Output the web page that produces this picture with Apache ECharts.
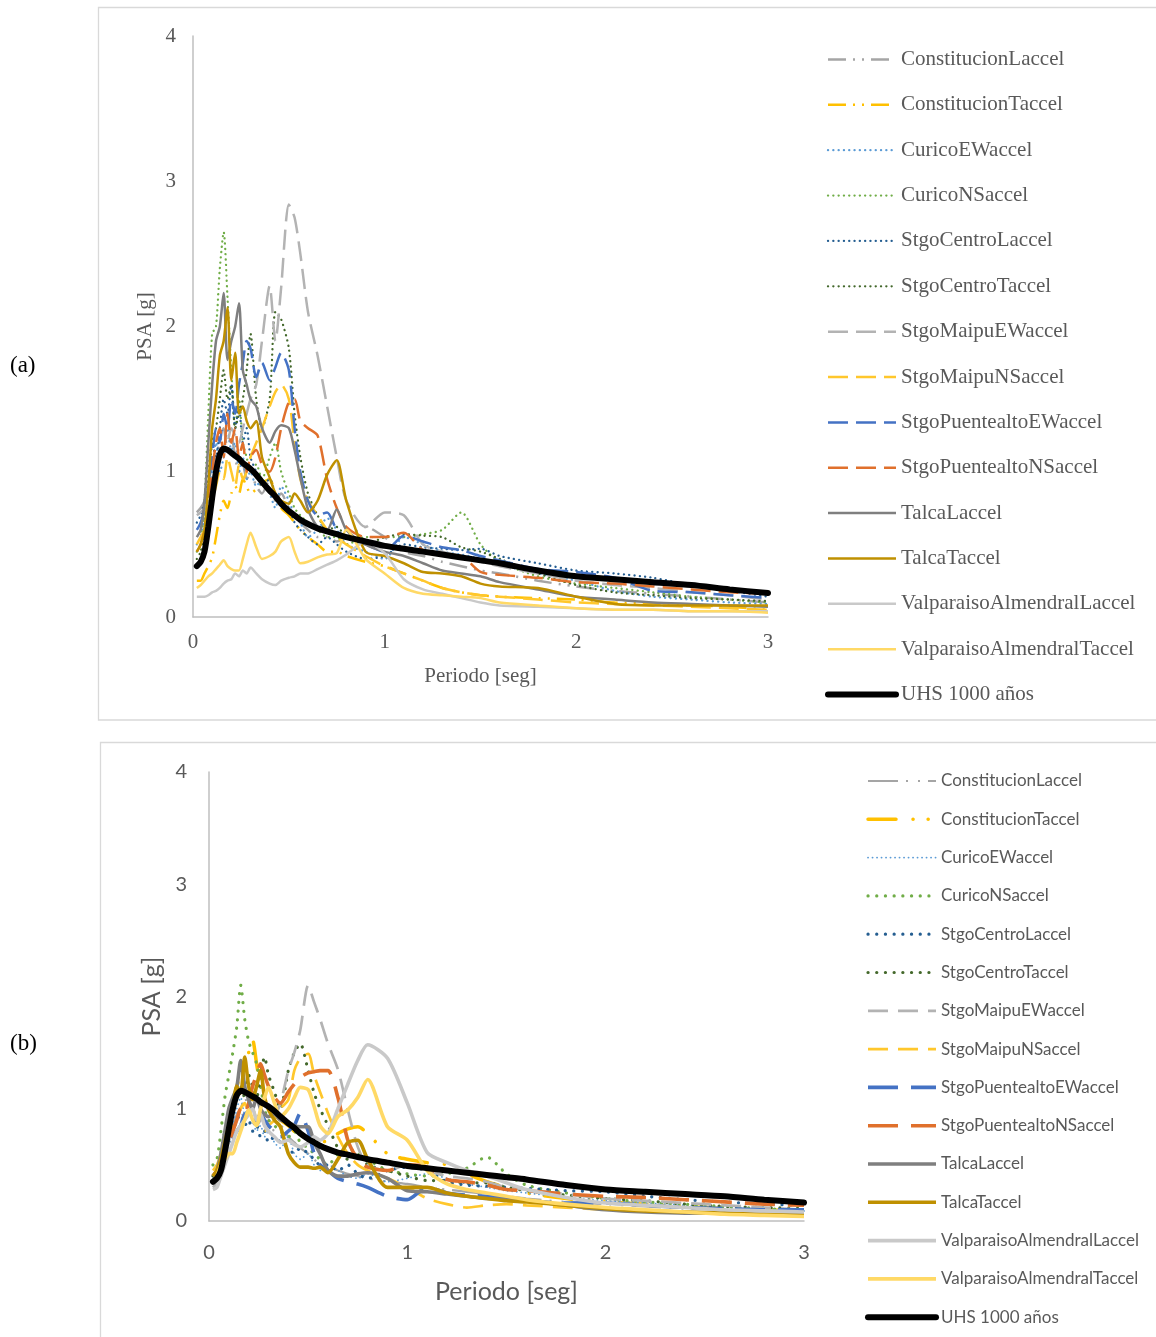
<!DOCTYPE html>
<html><head><meta charset="utf-8">
<script src="https://cdn.jsdelivr.net/npm/echarts/dist/echarts.min.js"></script>
<style>
html,body{margin:0;padding:0;background:#fff;width:1156px;height:1337px;overflow:hidden}
#ca{position:absolute;left:0;top:0;width:1156px;height:728px}
#cb{position:absolute;left:0;top:728px;width:1156px;height:609px}
</style></head><body><div id="ca"></div><div id="cb"></div>
<script>
// ---------- DATA ----------
const T = [0.02,0.04,0.06,0.08,0.10,0.12,0.14,0.16,0.18,0.20,0.22,0.24,0.26,0.28,0.30,
  0.33,0.36,0.40,0.43,0.46,0.50,0.53,0.56,0.60,
  0.65,0.70,0.75,0.80,0.90,1.00,
  1.1,1.2,1.3,1.4,1.5,1.6,
  1.8,2.0,2.2,2.4,2.6,2.8,3.0];
const NAMES = ['ConstitucionLaccel','ConstitucionTaccel','CuricoEWaccel','CuricoNSaccel','StgoCentroLaccel','StgoCentroTaccel','StgoMaipuEWaccel','StgoMaipuNSaccel','StgoPuentealtoEWaccel','StgoPuentealtoNSaccel','TalcaLaccel','TalcaTaccel','ValparaisoAlmendralLaccel','ValparaisoAlmendralTaccel','UHS 1000 años'];
const X_TICKS = [0,1,2,3];
const Y_TICKS = [0,1,2,3,4];

const UHS = [0.35,0.38,0.45,0.62,0.82,1.0,1.12,1.16,1.15,1.13,1.11,1.09,1.06,1.04,1.02,
  0.98,0.93,0.87,0.83,0.78,0.73,0.7,0.67,0.64,
  0.61,0.59,0.57,0.55,0.52,0.49,
  0.47,0.45,0.43,0.41,0.39,0.37,
  0.32,0.28,0.26,0.24,0.22,0.19,0.165];

// panel (a)
const A_ConstL = [0.72,0.75,0.8,0.9,1.0,1.1,1.2,1.3,1.15,1.25,1.1,1.0,1.05,0.95,1.0, 0.9,0.85,0.95,0.8,0.85,0.75,0.7,0.65,0.6, 0.55,0.55,0.52,0.55,0.62,0.55, 0.45,0.42,0.38,0.35,0.32,0.3, 0.25,0.21,0.18,0.16,0.14,0.12,0.1];
const A_ConstT = [0.25,0.25,0.3,0.35,0.41,0.55,0.7,0.8,0.75,0.85,0.9,0.85,0.95,0.9,0.85, 0.88,0.92,0.95,0.85,0.75,0.7,0.65,0.6,0.55, 0.5,0.45,0.45,0.42,0.38,0.35, 0.3,0.25,0.2,0.17,0.15,0.14, 0.13,0.12,0.1,0.09,0.08,0.07,0.05];
const A_CuricoEW = [0.5,0.55,0.7,0.9,1.0,1.2,1.0,1.1,1.3,1.15,1.2,1.0,1.1,0.95,1.0, 0.9,0.95,0.85,0.75,0.9,0.8,0.7,0.65,0.55, 0.6,0.68,0.6,0.5,0.45,0.4, 0.55,0.5,0.45,0.43,0.4,0.36, 0.3,0.25,0.18,0.14,0.12,0.1,0.09];
const A_CuricoNS = [0.45,0.5,0.8,1.4,1.95,2.0,2.4,2.65,2.2,1.7,1.3,1.5,1.2,1.1,1.0, 1.05,0.95,1.1,1.2,1.0,0.85,0.75,0.7,0.65, 0.6,0.55,0.55,0.5,0.55,0.55, 0.55,0.57,0.6,0.72,0.5,0.38, 0.28,0.23,0.2,0.17,0.14,0.12,0.1];
const A_StgoCentroL = [0.65,0.7,0.8,1.0,1.2,1.1,1.3,1.5,1.4,1.6,1.3,1.45,1.2,1.3,1.1, 1.0,0.9,0.95,0.85,0.8,0.75,0.65,0.6,0.55, 0.5,0.55,0.5,0.45,0.4,0.42, 0.5,0.48,0.47,0.46,0.47,0.42, 0.37,0.32,0.3,0.27,0.22,0.18,0.14];
const A_StgoCentroT = [0.4,0.45,0.6,0.9,1.2,1.3,1.5,1.7,1.5,1.6,1.3,1.4,1.5,1.7,1.95, 1.5,1.3,1.5,2.1,2.05,1.85,1.4,1.1,0.85, 0.7,0.6,0.62,0.55,0.5,0.55, 0.57,0.56,0.55,0.48,0.45,0.4, 0.3,0.22,0.17,0.15,0.13,0.12,0.11];
const A_MaipuEW = [0.7,0.72,0.75,0.8,0.9,1.0,1.1,1.15,1.2,1.3,1.25,1.2,1.3,1.4,1.5, 1.6,1.9,2.28,1.9,2.27,2.84,2.75,2.5,2.1, 1.8,1.45,1.1,0.8,0.62,0.72, 0.7,0.5,0.45,0.42,0.38,0.35, 0.3,0.25,0.22,0.2,0.17,0.15,0.12];
const A_MaipuNS = [0.5,0.55,0.6,0.7,0.8,0.9,1.0,0.95,1.1,1.0,0.9,1.05,0.95,1.0,1.1, 1.2,1.3,1.45,1.55,1.6,1.5,1.2,0.95,0.8, 0.7,0.6,0.55,0.5,0.42,0.35, 0.3,0.25,0.2,0.17,0.15,0.14, 0.12,0.1,0.09,0.08,0.07,0.06,0.05];
const A_PuenteEW = [0.6,0.65,0.75,0.9,1.1,1.3,1.2,1.4,1.3,1.5,1.4,1.6,1.75,1.9,1.85, 1.65,1.75,1.63,1.72,1.82,1.7,1.3,1.0,0.8, 0.7,0.72,0.6,0.55,0.5,0.45, 0.56,0.52,0.48,0.46,0.42,0.39, 0.33,0.31,0.27,0.18,0.17,0.15,0.13];
const A_PuenteNS = [0.45,0.5,0.6,0.8,1.0,1.2,1.3,1.1,1.4,1.2,1.3,1.1,1.2,1.0,1.1, 1.15,1.05,1.0,1.1,1.3,1.48,1.5,1.35,1.3, 1.25,0.95,0.75,0.62,0.55,0.55, 0.58,0.46,0.43,0.42,0.31,0.29, 0.27,0.24,0.23,0.21,0.19,0.17,0.16];
const A_TalcaL = [0.55,0.6,0.8,1.2,1.6,1.9,2.0,2.23,1.77,1.9,2.0,2.16,1.7,1.6,1.5, 1.45,1.3,1.2,1.28,1.32,1.3,1.15,0.96,0.74, 0.62,0.6,0.74,0.6,0.5,0.45, 0.42,0.37,0.32,0.3,0.28,0.24, 0.19,0.14,0.12,0.1,0.09,0.08,0.07];
const A_TalcaT = [0.45,0.5,0.6,0.9,1.3,1.5,1.8,1.9,2.13,1.63,1.82,1.4,1.45,1.35,1.3, 1.35,1.1,0.96,0.85,0.8,0.78,0.85,0.8,0.72, 0.8,0.98,1.08,0.8,0.45,0.42, 0.37,0.31,0.3,0.28,0.23,0.21, 0.2,0.14,0.09,0.08,0.08,0.08,0.08];
const A_ValpL = [0.14,0.14,0.14,0.15,0.17,0.18,0.2,0.23,0.25,0.26,0.3,0.28,0.32,0.3,0.34, 0.3,0.26,0.23,0.22,0.25,0.27,0.28,0.3,0.3, 0.33,0.36,0.39,0.43,0.52,0.44, 0.26,0.19,0.16,0.13,0.1,0.08, 0.07,0.06,0.05,0.05,0.04,0.04,0.04];
const A_ValpT = [0.2,0.22,0.25,0.28,0.3,0.33,0.36,0.39,0.35,0.33,0.32,0.32,0.4,0.5,0.58, 0.48,0.4,0.42,0.45,0.52,0.55,0.45,0.37,0.38, 0.41,0.43,0.44,0.6,0.4,0.3, 0.2,0.16,0.15,0.14,0.13,0.1, 0.08,0.06,0.05,0.05,0.04,0.04,0.03];

// panel (b)
const B_ConstL = [0.3,0.35,0.45,0.55,0.7,0.85,0.95,1.0,1.1,1.0,0.95,0.9,0.95,0.85,0.9, 0.8,0.85,0.75,0.7,0.65,0.6,0.55,0.5,0.48, 0.45,0.42,0.4,0.38,0.35,0.33, 0.3,0.28,0.26,0.24,0.22,0.2, 0.17,0.15,0.13,0.11,0.1,0.09,0.08];
const B_ConstT = [0.35,0.4,0.5,0.6,0.8,1.0,1.2,1.3,1.45,1.5,1.61,1.4,1.2,1.1,1.0, 0.95,0.9,0.85,0.8,0.78,0.75,0.72,0.7,0.72, 0.78,0.82,0.84,0.78,0.6,0.55, 0.52,0.5,0.42,0.35,0.3,0.25, 0.2,0.17,0.15,0.13,0.11,0.1,0.09];
const B_CuricoEW = [0.4,0.45,0.55,0.65,0.75,0.85,1.0,1.1,0.95,1.05,0.9,0.8,0.85,0.75,0.8, 0.7,0.65,0.75,0.6,0.55,0.6,0.5,0.45,0.5, 0.45,0.4,0.38,0.42,0.35,0.38, 0.42,0.38,0.33,0.3,0.27,0.25, 0.21,0.18,0.16,0.14,0.12,0.1,0.09];
const B_CuricoNS = [0.5,0.55,0.8,1.1,1.3,1.5,1.73,2.1,1.8,1.6,1.5,1.4,1.2,1.0,0.9, 0.85,0.8,0.75,0.8,0.7,0.65,0.6,0.55,0.5, 0.6,0.65,0.6,0.55,0.45,0.42, 0.4,0.42,0.47,0.57,0.42,0.32, 0.25,0.2,0.17,0.15,0.13,0.11,0.1];
const B_StgoCentroL = [0.35,0.4,0.5,0.6,0.7,0.8,0.9,0.95,0.85,0.9,0.8,0.85,0.75,0.8,0.7, 0.75,0.7,0.65,0.6,0.65,0.6,0.55,0.5,0.5, 0.45,0.5,0.42,0.38,0.45,0.48, 0.45,0.35,0.32,0.31,0.3,0.29, 0.27,0.26,0.22,0.19,0.17,0.15,0.14];
const B_StgoCentroT = [0.4,0.45,0.6,0.8,0.9,1.0,1.1,1.2,1.1,1.3,1.2,1.1,1.3,1.46,1.3, 1.15,1.0,1.34,1.5,1.58,1.34,1.14,1.0,0.85, 0.65,0.55,0.6,0.5,0.45,0.4, 0.36,0.36,0.34,0.34,0.3,0.27, 0.23,0.2,0.18,0.15,0.13,0.12,0.11];
const B_MaipuEW = [0.3,0.32,0.4,0.55,0.7,0.8,0.9,1.0,0.9,1.0,0.95,0.85,0.9,0.95,1.0, 0.95,1.05,1.34,1.5,1.7,2.1,1.95,1.8,1.58, 1.35,0.99,0.66,0.5,0.45,0.5, 0.45,0.4,0.38,0.35,0.3,0.28, 0.24,0.2,0.18,0.16,0.14,0.12,0.1];
const B_MaipuNS = [0.45,0.5,0.6,0.7,0.8,0.85,0.9,1.0,1.05,0.95,1.0,0.9,0.85,0.8,0.85, 0.9,1.0,1.08,1.34,1.45,1.49,1.3,1.15,0.96, 0.75,0.6,0.5,0.45,0.38,0.3, 0.2,0.15,0.12,0.14,0.15,0.14, 0.12,0.1,0.09,0.08,0.07,0.06,0.05];
const B_PuenteEW = [0.4,0.42,0.5,0.6,0.7,0.75,0.8,0.85,0.95,0.9,0.85,0.9,0.95,0.9,0.85, 0.8,0.75,0.8,0.85,0.96,0.8,0.6,0.5,0.45, 0.38,0.35,0.33,0.3,0.22,0.19, 0.3,0.25,0.23,0.22,0.2,0.18, 0.16,0.16,0.14,0.12,0.11,0.1,0.1];
const B_PuenteNS = [0.4,0.45,0.5,0.6,0.7,0.8,0.9,1.0,0.95,1.05,1.2,1.3,1.4,1.3,1.2, 1.1,1.05,1.15,1.22,1.28,1.32,1.33,1.34,1.34, 1.1,0.72,0.55,0.48,0.45,0.5, 0.48,0.37,0.35,0.32,0.28,0.27, 0.24,0.22,0.21,0.19,0.17,0.15,0.14];
const B_TalcaL = [0.4,0.45,0.6,0.8,1.0,1.1,1.19,1.43,1.2,1.08,1.0,1.1,1.0,0.95,0.93, 0.95,0.9,0.88,0.85,0.84,0.84,0.7,0.6,0.45, 0.4,0.4,0.42,0.43,0.38,0.27, 0.26,0.24,0.22,0.2,0.19,0.18, 0.14,0.1,0.08,0.07,0.07,0.06,0.06];
const B_TalcaT = [0.4,0.45,0.55,0.7,0.85,1.0,1.2,1.14,1.46,1.2,1.08,1.2,1.34,1.1,0.99, 0.9,0.84,0.6,0.52,0.48,0.48,0.47,0.48,0.43, 0.55,0.7,0.72,0.55,0.3,0.3, 0.3,0.25,0.22,0.2,0.18,0.17, 0.14,0.11,0.09,0.08,0.07,0.06,0.05];
const B_ValpL = [0.28,0.3,0.4,0.5,0.6,0.7,0.8,0.85,0.9,0.95,1.0,0.9,0.95,0.85,0.8, 0.75,0.7,0.72,0.68,0.66,0.7,0.75,0.72,0.78, 1.0,1.22,1.43,1.57,1.45,1.05, 0.61,0.52,0.45,0.4,0.34,0.28, 0.21,0.16,0.14,0.12,0.1,0.09,0.08];
const B_ValpT = [0.35,0.4,0.5,0.55,0.6,0.6,0.7,0.8,0.9,0.99,0.9,0.85,1.0,1.1,1.19, 1.05,0.93,1.0,1.1,1.19,1.17,1.02,0.85,0.78, 0.93,0.99,1.1,1.26,0.84,0.72, 0.45,0.33,0.28,0.25,0.22,0.19, 0.15,0.12,0.1,0.08,0.06,0.05,0.04];

const VALUES_A = [A_ConstL,A_ConstT,A_CuricoEW,A_CuricoNS,A_StgoCentroL,A_StgoCentroT,A_MaipuEW,A_MaipuNS,A_PuenteEW,A_PuenteNS,A_TalcaL,A_TalcaT,A_ValpL,A_ValpT,UHS];
const VALUES_B = [B_ConstL,B_ConstT,B_CuricoEW,B_CuricoNS,B_StgoCentroL,B_StgoCentroT,B_MaipuEW,B_MaipuNS,B_PuenteEW,B_PuenteNS,B_TalcaL,B_TalcaT,B_ValpL,B_ValpT,UHS];

// ---------- STYLES ----------
const COLORS = ['#A5A5A5','#FFC000','#5B9BD5','#70AD47','#255E91','#43682B','#B3B3B3','#FFC72C','#4472C4','#E0702C','#7F7F7F','#BF9000','#C9C9C9','#FFD966','#000000'];
const DDOT_A = [18,7,2,7,2,7], DOT_A = [0.1,5.2], DASH_A = [20,8];
const STYLE_A = [
  {t:DDOT_A,w:2.5},{t:DDOT_A,w:2.5},{t:DOT_A,w:2.3,c:'round'},{t:DOT_A,w:2.3,c:'round'},{t:DOT_A,w:2.3,c:'round'},{t:DOT_A,w:2.3,c:'round'},
  {t:DASH_A,w:2.5},{t:DASH_A,w:2.5},{t:DASH_A,w:2.5},{t:DASH_A,w:2.5},
  {t:'solid',w:2.5},{t:'solid',w:2.5},{t:'solid',w:2.5},{t:'solid',w:2.5},{t:'solid',w:6,c:'round'}];
const STYLE_B = [
  {t:[30,8,2,10,2,8],w:2.2},{t:[28,17,0.1,15,0.1,15],w:3.5,c:'round'},{t:[0.1,4.4],w:1.8,c:'round'},{t:[0.1,8.6],w:3.2,c:'round'},
  {t:[0.1,8.6],w:3.2,c:'round'},{t:[0.1,8.6],w:3.2,c:'round'},
  {t:[20,10],w:2.7},{t:[20,10],w:2.7},{t:[30,13],w:3.6},{t:[30,13],w:3.6},
  {t:'solid',w:3.6},{t:'solid',w:3.6},{t:'solid',w:3.6},{t:'solid',w:3.6},{t:'solid',w:6,c:'round'}];

function makeSeries(values, styles){
  return NAMES.map(function(n,i){
    return {
      type:'line', name:n, showSymbol:false, symbol:'none', smooth:0.25,
      data:T.map(function(t,k){return [t, values[i][k]];}),
      lineStyle:{color:COLORS[i], width:styles[i].w, type:styles[i].t, cap:styles[i].c||'butt'},
      itemStyle:{color:COLORS[i]},
      emphasis:{disabled:true}, silent:true, animation:false
    };
  });
}

function makeOption(p){
  return {
    animation:false,
    backgroundColor:'#ffffff',
    graphic:[
      {type:'rect', shape:{x:p.frame[0], y:p.frame[1], width:1200, height:p.frame[2]}, style:{fill:'none', stroke:'#D9D9D9', lineWidth:1.3}, silent:true},
      {type:'text', left:10, top:p.tagY, style:{text:p.tag, font:'23px "Liberation Serif"', fill:'#000'}}
    ],
    grid:{left:p.grid[0], right:p.grid[1], top:p.grid[2], bottom:p.grid[3], containLabel:false},
    xAxis:{type:'value', min:X_TICKS[0], max:X_TICKS[X_TICKS.length-1], interval:1,
      axisLine:{show:true, onZero:false, lineStyle:{color:'#BFBFBF', width:1.5}},
      axisTick:{show:false}, splitLine:{show:false},
      axisLabel:{color:'#595959', fontFamily:p.font, fontSize:p.tickSize, margin:p.xMargin},
      name:'Periodo [seg]', nameLocation:'middle', nameGap:p.xNameGap,
      nameTextStyle:{color:'#595959', fontFamily:p.font, fontSize:p.nameSize}},
    yAxis:{type:'value', min:Y_TICKS[0], max:Y_TICKS[Y_TICKS.length-1], interval:1,
      axisLine:{show:true, onZero:false, lineStyle:{color:'#BFBFBF', width:1.5}},
      axisTick:{show:false}, splitLine:{show:false},
      axisLabel:{color:'#595959', fontFamily:p.font, fontSize:p.tickSize, margin:p.yMargin},
      name:'PSA [g]', nameLocation:'middle', nameGap:p.yNameGap,
      nameTextStyle:{color:'#595959', fontFamily:p.font, fontSize:p.nameSize}},
    legend:{orient:'vertical', left:p.leg[0], top:p.leg[1], padding:0, itemWidth:p.leg[2], itemHeight:p.leg[3], itemGap:p.leg[4],
      selectedMode:false, data:NAMES,
      itemStyle:{opacity:0, borderWidth:0},
      lineStyle:{width:'inherit', type:'inherit', cap:'inherit'},
      textStyle:{color:'#595959', fontFamily:p.font, fontSize:p.legSize, lineHeight:p.leg[3]}},
    series:makeSeries(p.values, p.styles)
  };
}

const chartA = echarts.init(document.getElementById('ca'), null, {renderer:'canvas'});
chartA.setOption(makeOption({
  frame:[98.5,7.5,712.5], tag:'(a)', tagY:354,
  grid:[193,388,36,111], font:'Liberation Serif', tickSize:21, nameSize:21,
  xMargin:15, xNameGap:49, yMargin:17, yNameGap:37,
  leg:[825,49,68,21,24.36], legSize:21,
  values:VALUES_A, styles:STYLE_A
}));
const chartB = echarts.init(document.getElementById('cb'), null, {renderer:'canvas'});
chartB.setOption(makeOption({
  frame:[100.5,14.5,640], tag:'(b)', tagY:304,
  grid:[209,352,44,116], font:'Lato', tickSize:20, nameSize:25,
  xMargin:22, xNameGap:58, yMargin:22, yNameGap:44,
  leg:[865,44,68,18,20.3], legSize:17,
  values:VALUES_B, styles:STYLE_B
}));
</script>
</body></html>
